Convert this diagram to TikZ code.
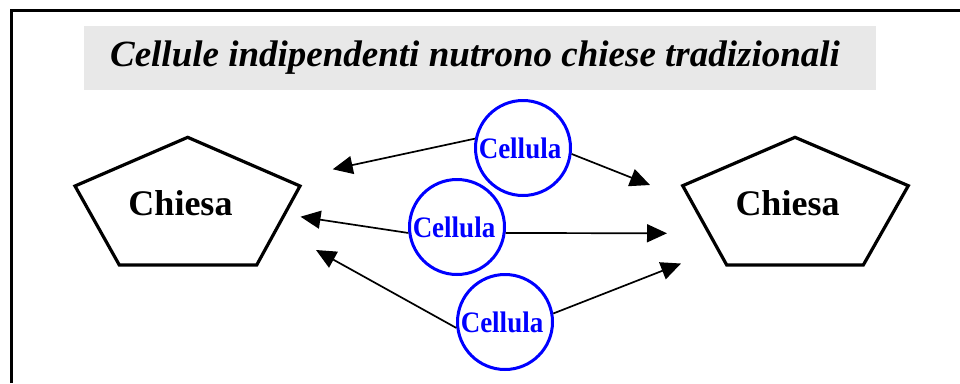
\documentclass[tikz,border=0pt]{standalone}
\usepackage{fontspec}
\setmainfont{Liberation Serif}
\usetikzlibrary{arrows.meta}
\definecolor{cellblue}{RGB}{0,0,255}
\definecolor{titlegray}{RGB}{232,232,232}
\tikzset{
  church/.style={draw=black,line width=3.2pt,line join=miter},
  cellnode/.style={circle,draw=cellblue,line width=3pt,minimum size=95pt,inner sep=0pt,
     text=cellblue,font=\fontsize{27}{30}\selectfont\bfseries},
  link/.style={line width=1.7pt,-{Triangle[length=20pt,width=18pt]}},
  churchlabel/.style={font=\fontsize{36}{40}\selectfont\bfseries,inner sep=0pt},
}
\newcommand{\celltext}{\hspace*{-6pt}\raisebox{-4pt}{\scalebox{1}[1.1]{Cellula}}}
\begin{document}
\begin{tikzpicture}[x=1pt,y=-1pt]
\useasboundingbox (0,0) rectangle (960,383);
% frame (top and left edges visible)
\draw[line width=3pt] (11,383) -- (11,10) -- (960,10);
% title
\fill[titlegray] (84,26) rectangle (876,90);
\node[font=\fontsize{37}{44}\selectfont\bfseries\itshape,anchor=base,inner sep=0pt] (title) at (475,66.5) {Cellule indipendenti nutrono chiese tradizionali};
% churches
\draw[church] (187.7,137.3) -- (300,186) -- (256.7,265) -- (119.3,265) -- (75,186) -- cycle;
\node[churchlabel,anchor=base] (chiesaL) at (180.5,215) {Chiesa};
\draw[church] (795,137.3) -- (908.3,185.7) -- (863.3,265) -- (726.7,265) -- (682.7,185.7) -- cycle;
\node[churchlabel,anchor=base] (chiesaR) at (787.5,215) {Chiesa};
% cells
\node[cellnode] (c1) at (523,148) {\celltext};
\node[cellnode] (c2) at (457,227) {\celltext};
\node[cellnode] (c3) at (505,322) {\celltext};
% arrow targets
\coordinate (t1L) at (332.7,169.3);
\coordinate (t1R) at (650,185);
\coordinate (t2L) at (300.5,216.7);
\coordinate (t2R) at (667,233.3);
\coordinate (t3L) at (316,250);
\coordinate (t3R) at (681,263.5);
\draw[link] (c1.169) -- (t1L);
\draw[link] (c1.353) -- (t1R);
\draw[link] (c2.187) -- (t2L);
\draw[link] (c2.353) -- (t2R);
\draw[link] (c3.187) -- (t3L);
\draw[link] (c3.10) -- (t3R);
\end{tikzpicture}
\end{document}
